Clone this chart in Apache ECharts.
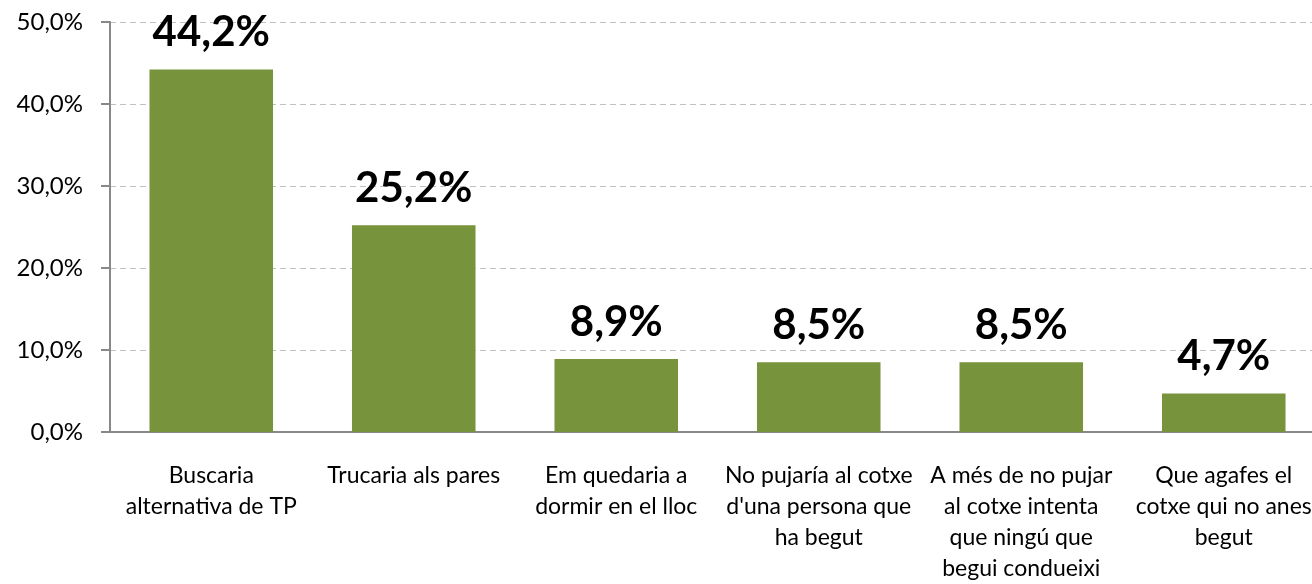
<!DOCTYPE html>
<html>
<head>
<meta charset="utf-8">
<script src="https://cdn.jsdelivr.net/npm/echarts@6/dist/echarts.min.js"></script>
<style>
  html, body { margin: 0; padding: 0; background: #fff; overflow: hidden; }
  #chart { width: 1325px; height: 584px; }
</style>
</head>
<body>
<div id="chart"></div>
<script>
const categories = [
  'Buscaria\nalternativa de TP',
  'Trucaria als pares',
  'Em quedaria a\ndormir en el lloc',
  "No pujaría al cotxe\nd'una persona que\nha begut",
  'A més de no pujar\nal cotxe intenta\nque ningú que\nbegui condueixi',
  'Que agafes el\ncotxe qui no anes\nbegut'
];
const values = [44.2, 25.2, 8.9, 8.5, 8.5, 4.7];

const fmt = v => v.toFixed(1).replace('.', ',') + '%';

const chart = echarts.init(document.getElementById('chart'));

// chart (div is a bit wider than the window so the last category is cut off like the original)
const option = {
  animation: false,
  grid: {
    left: 110,
    right: 0,
    top: 22,
    bottom: 152
  },
  xAxis: {
    type: 'category',
    data: categories,
    axisLine: { lineStyle: { color: '#888', width: 2 } },
    axisTick: { length: 6, lineStyle: { color: '#888', width: 2 } },
    axisLabel: {
      interval: 0,
      margin: 28,
      fontFamily: 'Lato',
      fontSize: 23,
      lineHeight: 31,
      color: '#000'
    }
  },
  yAxis: {
    type: 'value',
    min: 0,
    max: 50,
    interval: 10,
    axisLine: { show: true, lineStyle: { color: '#888', width: 2 } },
    axisTick: { show: true, length: 9, lineStyle: { color: '#888', width: 2 } },
    axisLabel: {
      margin: 27,
      fontFamily: 'Lato',
      fontSize: 24,
      color: '#000',
      formatter: fmt
    },
    splitLine: { lineStyle: { color: '#c0c0c0', type: [6, 4], width: 1 } }
  },
  series: [{
    type: 'bar',
    data: values,
    barCategoryGap: '39%',
    itemStyle: { color: '#77933C' },
    label: {
      show: true,
      position: 'top',
      distance: 16,
      fontFamily: 'Lato',
      fontWeight: 'bold',
      fontSize: 42,
      color: '#000',
      formatter: p => fmt(p.value)
    }
  }]
};

chart.setOption(option);
</script>
</body>
</html>
